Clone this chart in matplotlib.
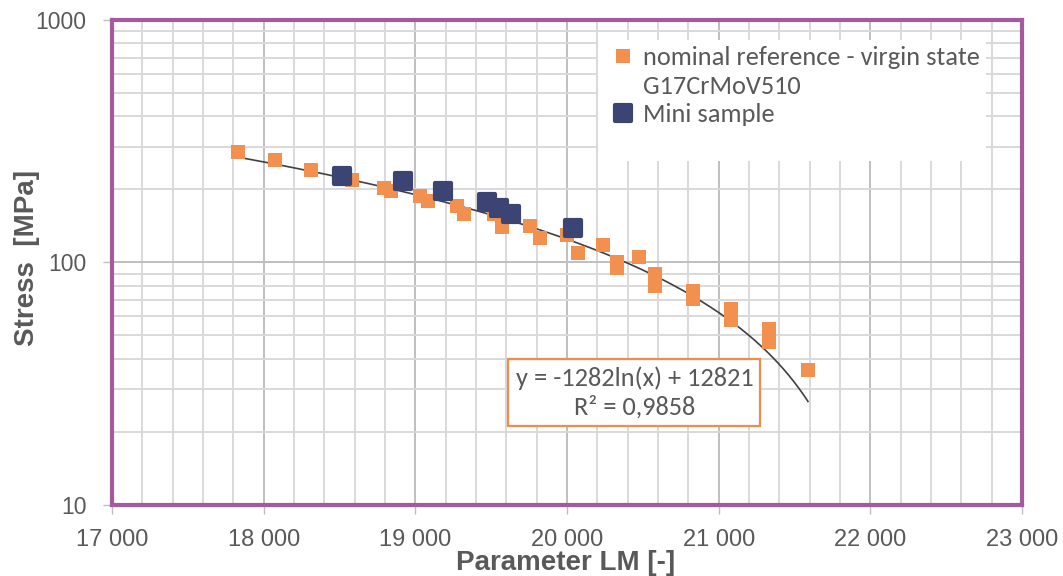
import numpy as np
import matplotlib
matplotlib.use("Agg")
import matplotlib.pyplot as plt
from matplotlib import font_manager as fm
from matplotlib.markers import MarkerStyle
from matplotlib.lines import Line2D
from matplotlib.ticker import FixedLocator, MultipleLocator, FuncFormatter, NullFormatter

# ========== data ==========
ref_lm = [17830, 18075, 18312, 18580, 18793, 18840, 19031, 19083, 19275, 19321,
          19519, 19571, 19756, 19822, 20000, 20072, 20237, 20330, 20330, 20475,
          20580, 20580, 20830, 20830, 21081, 21081, 21332, 21332, 21589]
ref_stress = [286, 264, 241, 219, 203, 197, 188, 179, 171, 158,
              158, 140, 141, 126, 130, 109, 118, 100, 95, 105,
              90, 80, 76, 71, 64, 58, 53, 47, 36]

mini_lm = [18517, 18919, 19182, 19473, 19552, 19631, 20040]
mini_stress = [227, 217, 197, 178, 168, 158, 139]

# Excel log trendline shown on the chart
trend_a = -1282
trend_b = 12821
trend_r2 = "0,9858"

ref_label = "nominal reference - virgin state"
ref_label2 = "G17CrMoV510"
mini_label = "Mini sample"

# ========== styles ==========
ORANGE = "#F2914F"
NAVY = "#3C4473"
PURPLE = "#A55AA0"
TXT = "#595959"

names = {f.name for f in fm.fontManager.ttflist}
if "Carlito" in names:
    calib, csize = "Carlito", 19
else:
    calib, csize = ("Lato", 17.5) if "Lato" in names else ("DejaVu Sans", 15)

fig = plt.figure(figsize=(10.63, 5.76), dpi=100)
ax = fig.add_axes([0.1054, 0.1233, 0.856, 0.842])

ax.set_yscale("log")
ax.set_xlim(17000, 23000)
ax.set_ylim(10, 1000)

# gridlines
ax.xaxis.set_major_locator(MultipleLocator(1000))
ax.xaxis.set_minor_locator(MultipleLocator(200))
ax.yaxis.set_major_locator(FixedLocator([10, 100, 1000]))
ax.yaxis.set_minor_locator(FixedLocator([m * d for d in (10, 100) for m in range(2, 10)]))
ax.yaxis.set_minor_formatter(NullFormatter())
ax.grid(which="minor", color="#D9D9D9", lw=1.4, zorder=0)
ax.grid(which="major", color="#BFBFBF", lw=1.4, zorder=0)
ax.set_axisbelow(True)

ax.xaxis.set_major_formatter(FuncFormatter(lambda v, p: f"{int(v):,}".replace(",", " ")))
ax.yaxis.set_major_formatter(FuncFormatter(lambda v, p: f"{int(v)}"))

ax.tick_params(which="minor", length=0)
ax.tick_params(axis="x", which="major", length=6.5, width=1, color="#BFBFBF", pad=11,
               labelsize=17, labelcolor=TXT)
ax.tick_params(axis="y", which="major", length=6.5, width=1, color="#BFBFBF", pad=12,
               labelsize=16.5, labelcolor=TXT)
for lab in ax.get_xticklabels() + ax.get_yticklabels():
    lab.set_family("Liberation Sans")

for s in ax.spines.values():
    s.set_color(PURPLE)
    s.set_linewidth(3)

# ========== data marks ==========
trend_x = np.linspace(min(ref_lm), max(ref_lm), 300)
trend_y = trend_a * np.log(trend_x) + trend_b
ax.plot(trend_x, trend_y, color="#404040", lw=1.2, zorder=3)

ax.plot(ref_lm, ref_stress, linestyle="none", marker="s", markersize=9.6,
        color=ORANGE, markeredgewidth=0, zorder=4, label=ref_label)
ax.plot(mini_lm, mini_stress, linestyle="none",
        marker=MarkerStyle("s", joinstyle="round"), markersize=11.5,
        color=NAVY, markeredgecolor=NAVY, markeredgewidth=3, zorder=5, label=mini_label)

# ========== legend ==========
h, l = ax.get_legend_handles_labels()
blank = Line2D([], [], linestyle="none")
leg = ax.legend([h[0], blank, h[1], blank], [ref_label, ref_label2, mini_label, " "],
                loc="upper left", bbox_to_anchor=(0.534, 0.959),
                frameon=True, fancybox=False, framealpha=1, facecolor="white",
                edgecolor="none", numpoints=1, handlelength=1.4, handletextpad=0.05,
                labelspacing=0.2, borderpad=0.25, borderaxespad=0,
                prop={"family": calib, "size": csize}, labelcolor=TXT)
leg.set_zorder(6)

# ========== trendline equation ==========
ax.text(0.574, 0.232, f"y = {trend_a}ln(x) + {trend_b}\nR² = {trend_r2}",
        transform=ax.transAxes, ha="center", va="center", fontsize=csize,
        family=calib, color=TXT, linespacing=1.3, zorder=6,
        bbox=dict(boxstyle="square,pad=0.27", facecolor="white", edgecolor="#F08C50", lw=1.6))

# ========== axis labels ==========
ax.set_xlabel("Parameter LM [-]", fontsize=20, fontweight="bold", color=TXT,
              family="Liberation Sans", va="center")
ax.xaxis.set_label_coords(0.498, -0.12)
ax.set_ylabel("Stress  [MPa]", fontsize=20, fontweight="bold", color=TXT,
              family="Liberation Sans", va="center")
ax.yaxis.set_label_coords(-0.0934, 0.509)

fig.savefig("out.png", dpi=100)
